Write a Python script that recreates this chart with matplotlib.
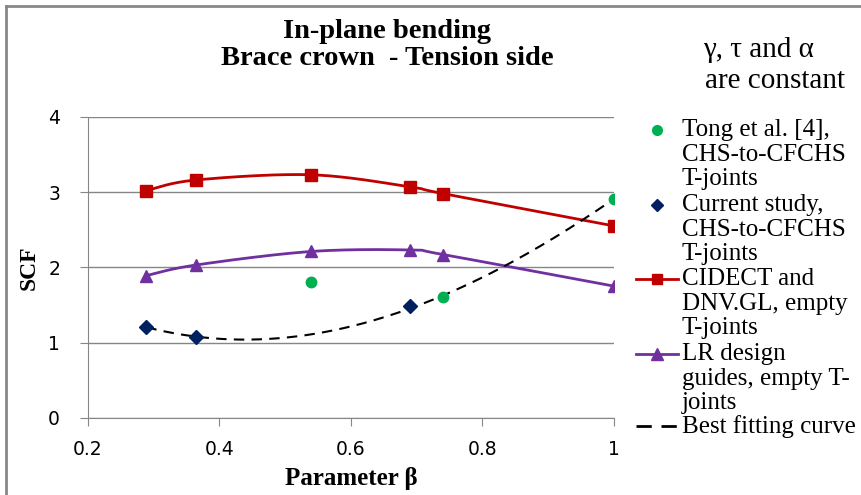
import numpy as np
import matplotlib.pyplot as plt
from matplotlib.lines import Line2D

# Data
beta = [0.289, 0.364, 0.539, 0.690, 0.740, 1.0]
scf_cidect = [3.02, 3.16, 3.23, 3.07, 2.98, 2.55]
scf_lr = [1.89, 2.03, 2.21, 2.23, 2.17, 1.75]

beta_tong = [0.539, 0.740, 1.0]
scf_tong = [1.81, 1.60, 2.91]

beta_current = [0.289, 0.364, 0.690]
scf_current = [1.21, 1.07, 1.48]

RED = '#C00000'
PURPLE = '#7030A0'
GREEN = '#00B050'
NAVY = '#002060'
GRID = '#868686'
SERIF = 'Liberation Serif'


def smooth(x, y, n=30):
    # Catmull-Rom style smoothing, like a spreadsheet "smoothed line"
    x = np.asarray(x, float)
    y = np.asarray(y, float)
    px = np.concatenate([[x[0]], x, [x[-1]]])
    py = np.concatenate([[y[0]], y, [y[-1]]])
    xs, ys = [], []
    for i in range(1, len(px) - 2):
        t = np.linspace(0, 1, n)
        p0, p1, p2, p3 = [np.array([px[j], py[j]]) for j in range(i - 1, i + 3)]
        c1 = p1 + (p2 - p0) / 6
        c2 = p2 - (p3 - p1) / 6
        pts = ((1 - t) ** 3)[:, None] * p1 + (3 * (1 - t) ** 2 * t)[:, None] * c1 \
            + (3 * (1 - t) * t ** 2)[:, None] * c2 + (t ** 3)[:, None] * p2
        xs.extend(pts[:, 0])
        ys.extend(pts[:, 1])
    return np.array(xs), np.array(ys)


fig = plt.figure(figsize=(8.61, 4.95), dpi=100)
ax = fig.add_axes([0.102, 0.156, 0.611, 0.608])

# best fitting curve (cubic trendline through current study + Tong points at beta 0.74 and 1)
fit_x = beta_current + beta_tong[1:]
fit_y = scf_current + scf_tong[1:]
coef = np.polyfit(fit_x, fit_y, 3)
xf = np.linspace(min(fit_x), max(fit_x), 200)
ax.plot(xf, np.polyval(coef, xf), color='black', ls=(0, (5, 3.5)), lw=1.5, zorder=3)

sx, sy = smooth(beta, scf_cidect)
ax.plot(sx, sy, color=RED, lw=2, zorder=2)
ax.plot(beta, scf_cidect, ls='none', marker='s', ms=8.5, color=RED, zorder=4)

sx, sy = smooth(beta, scf_lr)
ax.plot(sx, sy, color=PURPLE, lw=2, zorder=2)
ax.plot(beta, scf_lr, ls='none', marker='^', ms=9, color=PURPLE, zorder=4)

ax.plot(beta_tong, scf_tong, ls='none', marker='o', ms=7.5, color=GREEN, zorder=5)
ax.plot(beta_current, scf_current, ls='none', marker='D', ms=7.5, color=NAVY, zorder=5)

ax.set_xlim(0.2, 1.0)
ax.set_ylim(0, 4)
ax.set_xticks([0.2, 0.4, 0.6, 0.8, 1.0])
ax.set_xticklabels(['0.2', '0.4', '0.6', '0.8', '1'])
ax.set_yticks([0, 1, 2, 3, 4])
ax.grid(axis='y', color=GRID, lw=1)
ax.set_axisbelow(True)
for s in ['top', 'right']:
    ax.spines[s].set_visible(False)
for s in ['left', 'bottom']:
    ax.spines[s].set_color(GRID)
ax.tick_params(direction='out', length=6, color=GRID, labelsize=13.5)
ax.tick_params(axis='x', pad=10)
ax.tick_params(axis='y', pad=14)

ax.set_xlabel('Parameter β', family=SERIF, fontweight='bold', fontsize=18, labelpad=6)
ax.set_ylabel('SCF', family=SERIF, fontweight='bold', fontsize=17, labelpad=6)

fig.text(0.450, 0.937, 'In-plane bending', family=SERIF, fontweight='bold',
         fontsize=20.5, ha='center', va='center')
fig.text(0.450, 0.881, 'Brace crown  - Tension side', family=SERIF, fontweight='bold',
         fontsize=20.5, ha='center', va='center')
fig.text(703 / 861, 1 - 50 / 495, 'γ, τ and α', family=SERIF, fontsize=21, ha='left', va='center')
fig.text(705 / 861, 1 - 81 / 495, 'are constant', family=SERIF, fontsize=21, ha='left', va='center')

# legend drawn by hand so the handle sits on the first line of each entry
entries = [
    ('o', 7, GREEN, False, 'Tong et al. [4],\nCHS-to-CFCHS\nT-joints', 130),
    ('D', 6, NAVY, False, 'Current study,\nCHS-to-CFCHS\nT-joints', 205),
    ('s', 7.5, RED, True, 'CIDECT and\nDNV.GL, empty\nT-joints', 279),
    ('^', 8, PURPLE, True, 'LR design\nguides, empty T-\njoints', 354),
    (None, 0, 'black', True, 'Best fitting curve', 426),
]
H = 495.0
W = 861.0
for mk, ms, col, has_line, label, ypix in entries:
    yf = 1 - ypix / H
    if has_line:
        ls = '-' if mk else (0, (5.5, 3.5))
        fig.add_artist(Line2D([636 / W, 678 / W], [yf, yf], transform=fig.transFigure,
                              color=col, lw=2, ls=ls))
    if mk:
        fig.add_artist(Line2D([657 / W], [yf], transform=fig.transFigure,
                              marker=mk, ms=ms, color=col, ls='none'))
    fig.text(682 / W, yf + 11 / H, label, family=SERIF, fontsize=18,
             ha='left', va='top', linespacing=1.15)

# chart border (left and top edges visible)
fig.add_artist(Line2D([6 / W, 6 / W], [0, 1 - 6 / H], transform=fig.transFigure, color='#888888', lw=2))
fig.add_artist(Line2D([6 / W, 1], [1 - 6 / H, 1 - 6 / H], transform=fig.transFigure, color='#888888', lw=2))

fig.savefig('out.png', dpi=100)
